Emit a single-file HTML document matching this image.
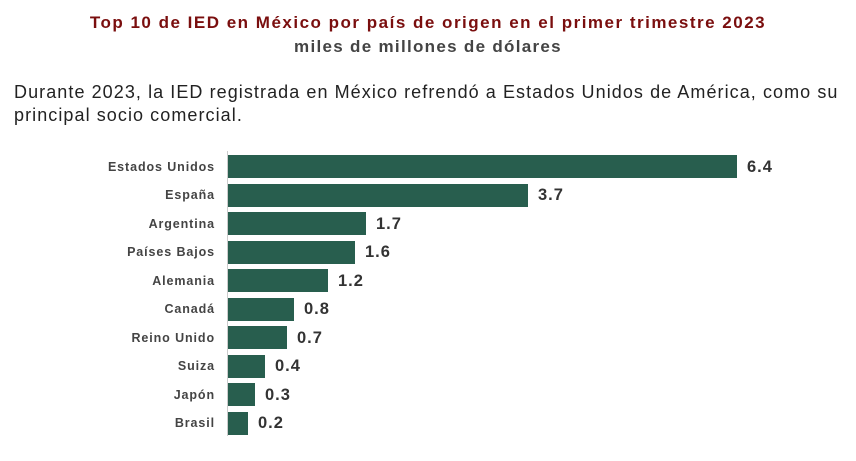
<!DOCTYPE html>
<html><head><meta charset="utf-8"><style>
body{margin:0;width:856px;height:461px;background:#fff;font-family:"Liberation Sans",sans-serif;position:relative;overflow:hidden}
.t{position:absolute;left:0;width:856px;text-align:center;font-weight:bold;font-size:17px}
.p{position:absolute;left:14px;font-size:18px;color:#222;letter-spacing:1.07px;white-space:nowrap}
.l{position:absolute;right:641px;font-size:12.5px;font-weight:bold;color:#444;text-align:right;white-space:nowrap;letter-spacing:0.9px}
.b{position:absolute;left:228px;height:23px;background:#285e4e}
.v{position:absolute;font-size:16.5px;font-weight:bold;color:#333;letter-spacing:1px}
</style></head><body>
<div class="t" style="top:13px;color:#7a0e0e;letter-spacing:1.5px">Top 10 de IED en México por país de origen en el primer trimestre 2023</div>
<div class="t" style="top:37px;color:#444;letter-spacing:1.3px">miles de millones de dólares</div>
<div class="p" style="top:82px">Durante 2023, la IED registrada en México refrendó a Estados Unidos de América, como su</div>
<div class="p" style="top:105px">principal socio comercial.</div>
<div style="position:absolute;left:227px;top:151px;width:1px;height:285px;background:#ccc"></div>
<div id="c"></div>
<script>
var d=[["Estados Unidos",737,"6.4"],["España",528,"3.7"],["Argentina",366,"1.7"],["Países Bajos",355,"1.6"],["Alemania",328,"1.2"],["Canadá",294,"0.8"],["Reino Unido",287,"0.7"],["Suiza",265,"0.4"],["Japón",255,"0.3"],["Brasil",248,"0.2"]];
var h="";d.forEach(function(r,i){var c=166.5+i*28.5;
h+='<div class="l" style="top:'+(c-7)+'px">'+r[0]+'</div>';
h+='<div class="b" style="top:'+(c-11.5)+'px;width:'+(r[1]-228)+'px"></div>';
h+='<div class="v" style="top:'+(c-9)+'px;left:'+(r[1]+10)+'px">'+r[2]+'</div>';});
document.getElementById("c").innerHTML=h;
</script>
</body></html>
